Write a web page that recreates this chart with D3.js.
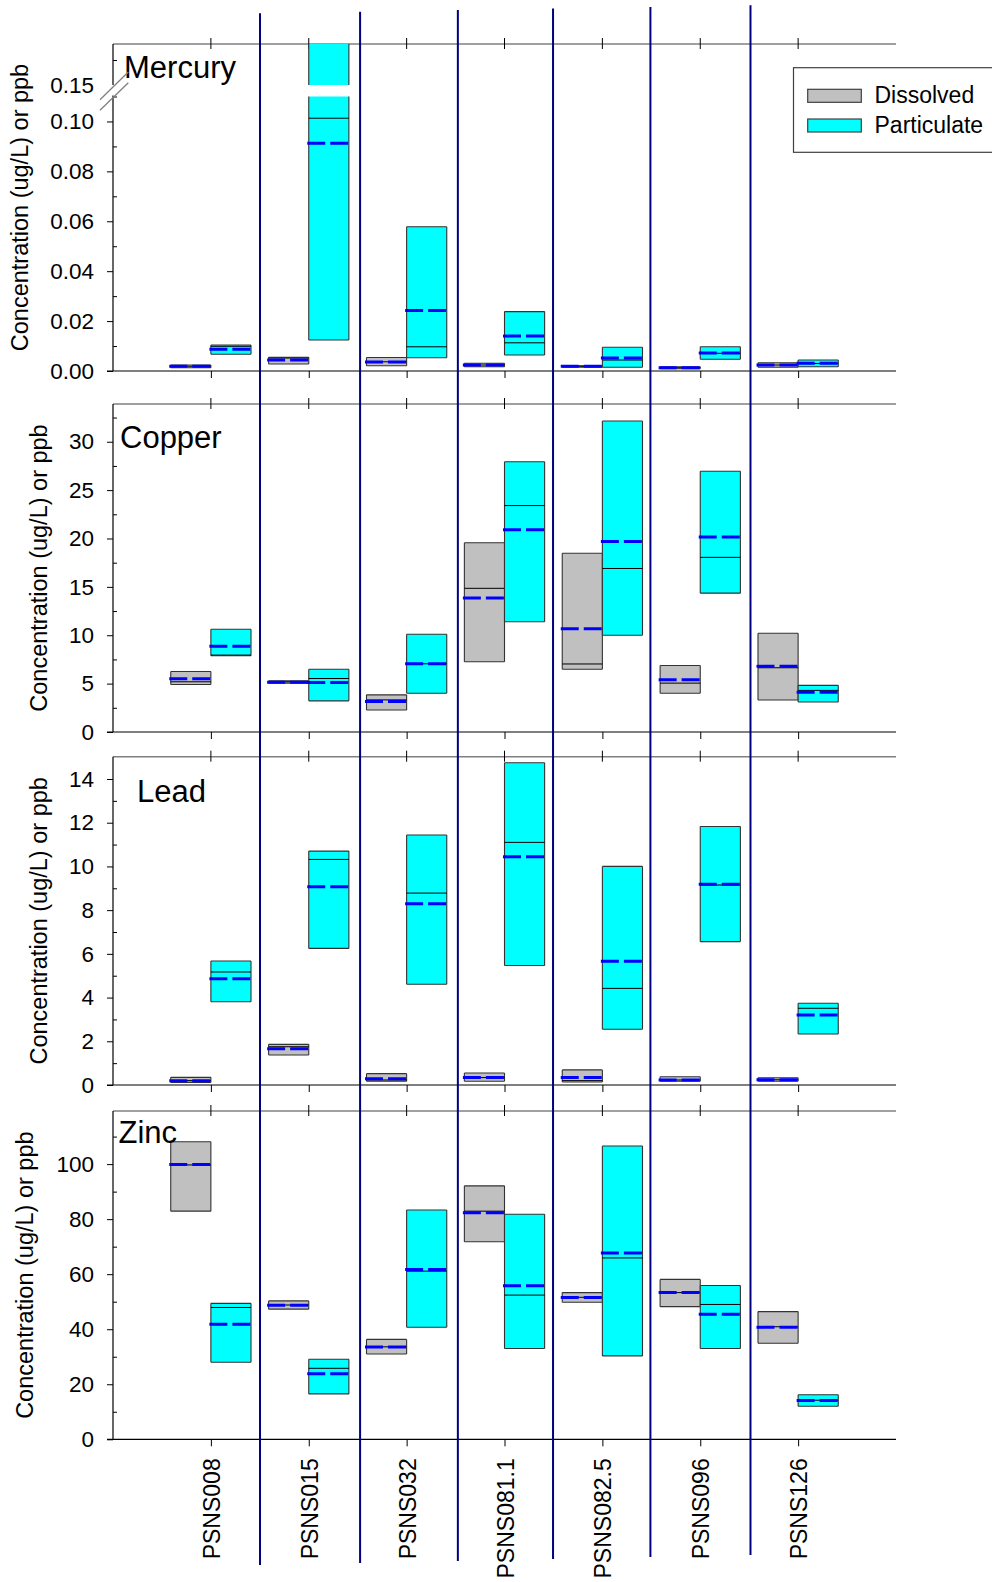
<!DOCTYPE html>
<html>
<head>
<meta charset="utf-8">
<script src="https://cdn.jsdelivr.net/npm/d3@7"></script>
<style>
  html, body { margin: 0; padding: 0; background: #fff; }
  svg { display: block; font-family: "Liberation Sans", Arial, sans-serif; }
</style>
</head>
<body>
<svg id="chart" width="992" height="1582"></svg>
<script>
// ---------------- DATA ----------------
const sites = ["PSNS008", "PSNS015", "PSNS032", "PSNS081.1", "PSNS082.5", "PSNS096", "PSNS126"];
const fractions = ["Dissolved", "Particulate"];

// each entry: [min, median, mean, max]
const mercuryDissolved = [
  [0.0013, 0.0019, 0.0019, 0.0024],
  [0.0028, 0.0052, 0.0044, 0.0055],
  [0.0021, 0.0037, 0.0036, 0.0054],
  [0.0017, 0.0024, 0.0024, 0.0031],
  [0.0015, 0.0019, 0.0019, 0.0021],
  [0.0009, 0.0013, 0.0013, 0.0017],
  [0.0015, 0.0024, 0.0024, 0.0033]
];
const mercuryParticulate = [
  [0.0067, 0.0099, 0.0087, 0.0104],
  [0.0124, 0.1013, 0.0913, 0.2000],
  [0.0053, 0.0097, 0.0242, 0.0578],
  [0.0064, 0.0113, 0.0140, 0.0238],
  [0.0015, 0.0044, 0.0052, 0.0095],
  [0.0047, 0.0071, 0.0072, 0.0097],
  [0.0017, 0.0030, 0.0031, 0.0044]
];
const copperDissolved = [
  [4.91, 5.19, 5.50, 6.26],
  [5.05, 5.19, 5.15, 5.30],
  [2.28, 3.32, 3.15, 3.84],
  [7.26, 14.85, 13.85, 19.56],
  [6.48, 7.03, 10.67, 18.47],
  [4.01, 5.05, 5.39, 6.88],
  [3.31, 6.64, 6.79, 10.20]
];
const copperParticulate = [
  [7.88, 7.95, 8.85, 10.62],
  [3.22, 5.53, 5.12, 6.48],
  [4.01, 7.05, 7.05, 10.10],
  [11.40, 23.40, 20.90, 27.93],
  [10.00, 16.90, 19.70, 32.14],
  [14.35, 18.05, 20.15, 26.95],
  [3.10, 4.30, 4.10, 4.82]
];
const leadDissolved = [
  [0.12, 0.20, 0.20, 0.35],
  [1.37, 1.75, 1.66, 1.86],
  [0.17, 0.23, 0.29, 0.52],
  [0.17, 0.34, 0.34, 0.55],
  [0.14, 0.20, 0.34, 0.69],
  [0.17, 0.23, 0.23, 0.38],
  [0.17, 0.24, 0.24, 0.33]
];
const leadParticulate = [
  [3.81, 5.17, 4.86, 5.67],
  [6.25, 10.32, 9.07, 10.70],
  [4.61, 8.78, 8.29, 11.44],
  [5.47, 11.10, 10.44, 14.74],
  [2.55, 4.42, 5.66, 10.00],
  [6.56, 9.15, 9.19, 11.83],
  [2.33, 3.51, 3.20, 3.74]
];
const zincDissolved = [
  [82.9, 99.7, 99.9, 108.1],
  [47.3, 48.8, 48.7, 50.3],
  [31.0, 33.6, 33.5, 36.3],
  [71.8, 82.9, 82.3, 92.1],
  [49.8, 51.6, 51.5, 53.3],
  [48.2, 53.3, 53.3, 58.1],
  [34.9, 40.9, 40.7, 46.4]
];
const zincParticulate = [
  [28.0, 47.9, 41.8, 49.4],
  [16.5, 25.8, 23.8, 29.1],
  [40.7, 61.1, 61.7, 83.3],
  [33.0, 52.4, 55.8, 81.8],
  [30.3, 65.9, 67.7, 106.6],
  [33.0, 49.0, 45.4, 55.9],
  [12.0, 14.2, 14.1, 16.2]
];

// tick labels
const mercuryTicksLow = [0, 0.02, 0.04, 0.06, 0.08, 0.10];
const mercuryTicksHigh = [0.15];
const mercuryMinor = [0.01, 0.03, 0.05, 0.07, 0.09, 0.11, 0.16];
const copperTicks = [0, 5, 10, 15, 20, 25, 30];
const copperMinor = [2.5, 7.5, 12.5, 17.5, 22.5, 27.5, 32.5];
const leadTicks = [0, 2, 4, 6, 8, 10, 12, 14];
const leadMinor = [1, 3, 5, 7, 9, 11, 13];
const zincTicks = [0, 20, 40, 60, 80, 100];
const zincMinor = [10, 30, 50, 70, 90, 110];

// ---------------- LAYOUT ----------------
const svg = d3.select("#chart");
const LEFT = 113, RIGHT = 896;
const x = d3.scaleLinear().domain([0, sites.length + 1]).range([LEFT, RIGHT]);
const boxW = 0.41; // in category units
const colors = { Dissolved: "#C0C0C0", Particulate: "#00FFFF" };
const fmt2 = d3.format(".2f"), fmt0 = d3.format("d");

const panels = [
  { title: "Mercury", dis: mercuryDissolved, par: mercuryParticulate,
    top: 44, bottom: 371,
    segs: [ { d: [0, 0.11], r: [371, 96.5], ticks: mercuryTicksLow },
            { d: [0.15, 0.1664], r: [85, 44], ticks: mercuryTicksHigh, noMajorTick: true } ],
    minor: mercuryMinor, fmt: fmt2, tx: 124, ty: 78.3, ytx: 28.3 },
  { title: "Copper", dis: copperDissolved, par: copperParticulate,
    top: 404, bottom: 732,
    segs: [ { d: [0, 33.9], r: [732, 404], ticks: copperTicks } ],
    minor: copperMinor, fmt: fmt0, tx: 120, ty: 448.3, ytx: 46.7 },
  { title: "Lead", dis: leadDissolved, par: leadParticulate,
    top: 756.7, bottom: 1085,
    segs: [ { d: [0, 15.02], r: [1085, 756.7], ticks: leadTicks } ],
    minor: leadMinor, fmt: fmt0, tx: 137, ty: 801.7, ytx: 46.7 },
  { title: "Zinc", dis: zincDissolved, par: zincParticulate,
    top: 1111, bottom: 1439.3,
    segs: [ { d: [0, 119.3], r: [1439.3, 1111], ticks: zincTicks } ],
    minor: zincMinor, fmt: fmt0, tx: 118.5, ty: 1142.7, ytx: 33.3, labels: true }
];

panels.forEach(p => {
  p.segs.forEach(s => { s.scale = d3.scaleLinear().domain(s.d).range(s.r); });
  const g = svg.append("g");

  // top axis line (gray) with crossing ticks
  g.append("line").attr("x1", LEFT).attr("x2", RIGHT)
    .attr("y1", p.top).attr("y2", p.top)
    .attr("stroke", "#808080").attr("stroke-width", 1.5);
  g.selectAll(".tt").data(sites).enter().append("line")
    .attr("x1", (d, i) => x(i + 1)).attr("x2", (d, i) => x(i + 1))
    .attr("y1", p.top - 6).attr("y2", p.top + 5)
    .attr("stroke", "#000").attr("stroke-width", 1);

  // boxes
  const groups = [p.dis, p.par];
  groups.forEach((arr, fi) => {
    const fill = colors[fractions[fi]];
    arr.forEach((v, i) => {
      const cx = i + 1;
      const x0 = fi === 0 ? x(cx - boxW) : x(cx);
      const x1 = fi === 0 ? x(cx) : x(cx + boxW);
      const [mn, md, mean, mx] = v;
      p.segs.forEach(s => {
        const lo = Math.max(mn, s.d[0]), hi = Math.min(mx, s.d[1]);
        if (lo >= hi) return;
        const yTop = s.scale(hi), yBot = s.scale(lo);
        g.append("rect").attr("x", x0).attr("y", yTop)
          .attr("width", x1 - x0).attr("height", yBot - yTop)
          .attr("fill", fill);
        let path = `M${x0},${yTop}V${yBot}M${x1},${yTop}V${yBot}`;
        if (hi === mx) path += `M${x0},${yTop}H${x1}`;
        if (lo === mn) path += `M${x0},${yBot}H${x1}`;
        g.append("path").attr("d", path).attr("fill", "none")
          .attr("stroke", "#333").attr("stroke-width", 1.1);
      });
      const segFor = val => p.segs.find(s => val >= s.d[0] && val <= s.d[1]);
      const sm = segFor(md);
      if (sm) {
        g.append("line").attr("x1", x0).attr("x2", x1)
          .attr("y1", sm.scale(md)).attr("y2", sm.scale(md))
          .attr("stroke", "#000").attr("stroke-width", 1);
      }
      const se = segFor(mean);
      if (se) {
        g.append("line").attr("x1", x0 - 1.5).attr("x2", x1 + 1.5)
          .attr("y1", se.scale(mean)).attr("y2", se.scale(mean))
          .attr("stroke", "#0000FF").attr("stroke-width", 3)
          .attr("stroke-dasharray", "18,5");
      }
    });
  });

  // left axis
  p.segs.forEach(s => {
    const ax = d3.axisLeft(s.scale).tickValues(s.ticks)
      .tickFormat(p.fmt).tickSizeInner(s.noMajorTick ? 0 : 6).tickSizeOuter(0)
      .tickPadding(s.noMajorTick ? 19 : 13);
    const ag = g.append("g").attr("transform", `translate(${LEFT},0)`).call(ax);
    ag.select(".domain").remove();
    ag.selectAll("text").attr("font-size", "22.5px").attr("fill", "#000")
      .attr("font-family", "Liberation Sans, Arial, sans-serif");
    ag.selectAll("line").attr("stroke", "#000");
    const minorVals = p.minor.filter(m => m >= s.d[0] && m <= s.d[1]);
    const mg = g.append("g").attr("transform", `translate(${LEFT},0)`)
      .call(d3.axisLeft(s.scale).tickValues(minorVals).tickFormat("").tickSizeInner(-4).tickSizeOuter(0));
    mg.select(".domain").remove();
    mg.selectAll("line").attr("stroke", "#000");
    // axis line segment
    g.append("line").attr("x1", LEFT).attr("x2", LEFT)
      .attr("y1", s.r[0]).attr("y2", s.r[1] + (s.r[1] === p.top ? 0 : -1))
      .attr("stroke", "#000").attr("stroke-width", 1.2);
  });

  // bottom axis
  const bx = d3.axisBottom(x).tickValues(d3.range(1, sites.length + 1))
    .tickSizeInner(7).tickSizeOuter(0)
    .tickFormat(p.labels ? (d => sites[d - 1]) : "");
  const bg = g.append("g").attr("transform", `translate(0,${p.bottom})`).call(bx);
  bg.select(".domain").remove();
  bg.selectAll("line").attr("stroke", "#000");
  g.append("line").attr("x1", LEFT - 6).attr("x2", RIGHT)
    .attr("y1", p.bottom).attr("y2", p.bottom)
    .attr("stroke", "#000").attr("stroke-width", 1.2);
  if (p.labels) {
    bg.selectAll("text")
      .attr("transform", "rotate(-90)")
      .attr("text-anchor", "end")
      .attr("x", -19).attr("y", 8.5).attr("dy", 0)
      .attr("font-size", "23px").attr("fill", "#000")
      .attr("font-family", "Liberation Sans, Arial, sans-serif");
  }

  // panel title
  g.append("text").attr("x", p.tx).attr("y", p.ty)
    .attr("font-size", "31px").attr("fill", "#000").text(p.title);

  // y axis title
  g.append("text")
    .attr("transform", `translate(${p.ytx},${(p.top + p.bottom) / 2}) rotate(-90)`)
    .attr("text-anchor", "middle").attr("font-size", "23.5px").attr("fill", "#000")
    .text("Concentration (ug/L) or ppb");
});

// mercury axis break marks
const brk = svg.append("g").attr("stroke", "#808080").attr("stroke-width", 1.3);
brk.append("line").attr("x1", 100).attr("y1", 99.7).attr("x2", 128.3).attr("y2", 72);
brk.append("line").attr("x1", 100).attr("y1", 110.3).attr("x2", 128.3).attr("y2", 82.8);

// legend
const lg = svg.append("g");
lg.append("rect").attr("x", 793.5).attr("y", 67.7).attr("width", 220).attr("height", 84.6)
  .attr("fill", "#fff").attr("stroke", "#404040").attr("stroke-width", 1.2);
fractions.forEach((f, i) => {
  const yy = 89.3 + i * 29.7;
  lg.append("rect").attr("x", 807.7).attr("y", yy).attr("width", 53.6).attr("height", 13)
    .attr("fill", colors[f]).attr("stroke", "#404040").attr("stroke-width", 1.2);
  lg.append("text").attr("x", 874.5).attr("y", yy + 14).attr("font-size", "23px")
    .attr("fill", "#000").text(f);
});

// site separators (hand-placed in original: slight nudges from exact midpoints)
const sepNudge = [0.2, 2.4, 2.3, -0.4, -0.9, 1.3];
d3.range(1, sites.length).forEach((i, k) => {
  const sx = x(i + 0.5) + sepNudge[k];
  svg.append("line")
    .attr("x1", sx).attr("x2", sx)
    .attr("y1", 13.3 - 1.6 * k).attr("y2", 1565 - 2 * k)
    .attr("stroke", "#000080").attr("stroke-width", 2);
});
</script>
</body>
</html>
